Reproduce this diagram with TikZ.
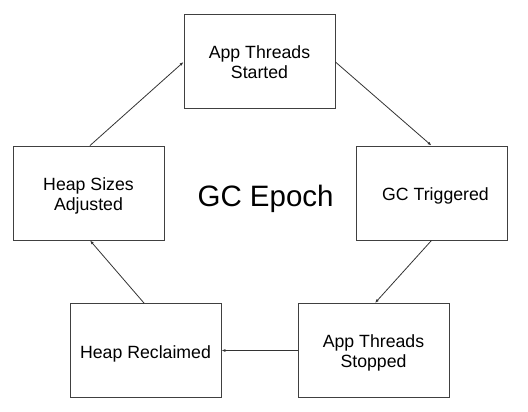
\documentclass[tikz,border=0pt]{standalone}
\usepackage{fontspec}
\setmainfont{Liberation Sans}
\usetikzlibrary{arrows.meta}
\newcommand\lblone[1]{\raisebox{-7.5pt}[0pt][0pt]{#1}}
\newcommand\lbltwo[2]{\raisebox{-17.3pt}[0pt][0pt]{\vbox{\baselineskip=20pt\lineskiplimit=-20pt\halign{\hfil##\hfil\cr#1\cr#2\cr}}}}
\begin{document}
\begin{tikzpicture}[x=1pt,y=-1pt,
  stepbox/.style={draw=black!75, line width=0.9pt, minimum width=151pt, minimum height=94pt, inner sep=0pt, font=\fontsize{17.7}{20}\selectfont},
  conn/.style={draw=black!80, line width=0.8pt, -{Latex[length=4pt,width=3pt]}}]
\useasboundingbox (0,0) rectangle (528,412);
\node[stepbox] (start) at (259.5,61) {\lbltwo{App Threads}{Started}};
\node[stepbox] (gc) at (431.5,193) {\hspace{8pt}\lblone{GC Triggered}};
\node[stepbox] (stop) at (373.5,350.5) {\lbltwo{App Threads}{Stopped}};
\node[stepbox] (recl) at (145.5,350.5) {\lblone{Heap Reclaimed}};
\node[stepbox] (adj) at (88.5,193) {\lbltwo{Heap Sizes}{Adjusted}};
\node[font=\fontsize{29.5}{32}\selectfont, anchor=base, inner sep=0pt] (title) at (265.6,206.7) {GC Epoch};
\coordinate (a1) at (90,146);
\coordinate (a2) at (184,62);
\draw[conn] (adj.north -| a1) -- (start.west |- a2);
\draw[conn] (start.east |- a2) -- (gc.north);
\coordinate (b1) at (375,303);
\draw[conn] (gc.south) -- (stop.north -| b1);
\draw[conn] (stop.west) -- (recl.east);
\coordinate (c1) at (144,303);
\draw[conn] (recl.north -| c1) -- (adj.south -| a1);
\end{tikzpicture}
\end{document}
